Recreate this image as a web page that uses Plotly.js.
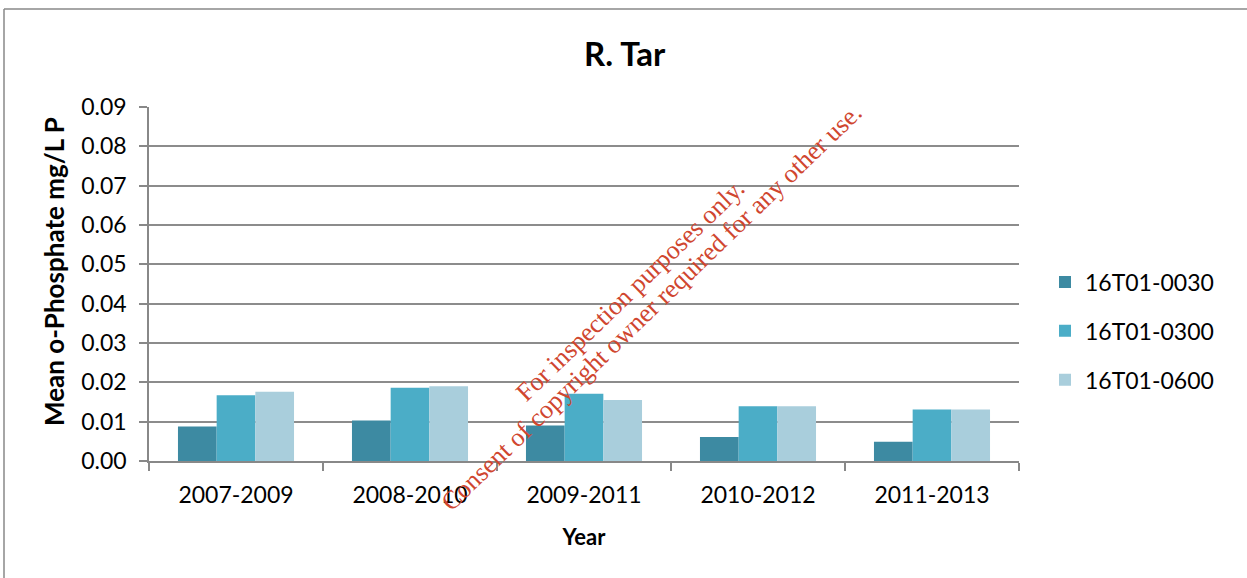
<!DOCTYPE html>
<html>
<head>
<meta charset="utf-8">
<script src="https://cdn.plot.ly/plotly-3.0.1.min.js"></script>
<style>
html,body{margin:0;padding:0;background:#fff;}
#chart{width:1247px;height:578px;}
</style>
</head>
<body>
<div id="chart"></div>
<script>
const categories = ["2007-2009", "2008-2010", "2009-2011", "2010-2012", "2011-2013"];
const seriesNames = ["16T01-0030", "16T01-0300", "16T01-0600"];
const s0030 = [0.0088, 0.0103, 0.0090, 0.0061, 0.0049];
const s0300 = [0.0167, 0.0186, 0.0171, 0.0139, 0.0131];
const s0600 = [0.0176, 0.0190, 0.0155, 0.0139, 0.0131];
const yTicks = [0, 0.01, 0.02, 0.03, 0.04, 0.05, 0.06, 0.07, 0.08, 0.09];

const colors = ["#3d8aa2", "#4badc7", "#a9cedc"];
const values = [s0030, s0300, s0600];

const traces = values.map((v, i) => ({
  type: "bar",
  x: categories,
  y: v,
  name: seriesNames[i],
  legendgroup: "g" + i,
  marker: {color: colors[i], line: {width: 0}},
  hoverinfo: "x+y+name"
}));

const font = "Lato, 'Open Sans', sans-serif";
const serif = "'Liberation Serif', 'Times New Roman', serif";

// plot area in pixels (used only to place paper-referenced decorations)
const L = 149, R = 1019, T = 107, B = 461;
const px = x => (x - L) / (R - L);
const py = y => (B - y) / (B - T);

const layout = {
  width: 1247,
  height: 578,
  margin: {l: L, r: 1247 - R, t: T, b: 578 - B},
  paper_bgcolor: "#ffffff",
  plot_bgcolor: "#ffffff",
  barmode: "group",
  bargap: 0.333,
  bargroupgap: 0,
  showlegend: true,
  title: {
    text: "<b>R. Tar</b>",
    font: {family: font, size: 33, color: "#000"},
    x: 0.501, xref: "container", xanchor: "center",
    y: 0.905, yref: "container", yanchor: "middle"
  },
  xaxis: {
    type: "category",
    tickson: "boundaries",
    ticks: "outside",
    ticklen: 8,
    tickcolor: "#888",
    tickwidth: 1.5,
    ticklabelstandoff: 13,
    showline: true,
    linecolor: "#888",
    linewidth: 1.5,
    showgrid: false,
    tickfont: {family: font, size: 23, color: "#000"},
    title: {text: "<b>Year</b>", font: {family: font, size: 22, color: "#000"}, standoff: 22}
  },
  yaxis: {
    range: [0, 0.09],
    tickvals: yTicks,
    tickformat: ".2f",
    ticks: "outside",
    ticklen: 8,
    tickcolor: "#888",
    tickwidth: 1.5,
    ticklabelstandoff: 8,
    showline: true,
    linecolor: "#888",
    linewidth: 1.5,
    showgrid: true,
    gridcolor: "#8c8c8c",
    gridwidth: 1.5,
    zeroline: false,
    tickfont: {family: font, size: 23, color: "#000"}
  },
  legend: {
    x: px(1045), xanchor: "left",
    y: py(331), yanchor: "middle",
    font: {family: font, size: 23, color: "#000"},
    traceorder: "grouped",
    tracegroupgap: 16,
    itemwidth: 30,
    bgcolor: "rgba(0,0,0,0)"
  },
  shapes: [
    {type: "line", xref: "paper", yref: "paper", x0: px(4), x1: px(4), y0: py(578), y1: py(9),
     line: {color: "#888", width: 1.5}, layer: "below"},
    {type: "line", xref: "paper", yref: "paper", x0: px(4), x1: px(1247), y0: py(9), y1: py(9),
     line: {color: "#888", width: 1.5}, layer: "below"}
  ],
  annotations: [
    {
      text: "<b>Mean o-Phosphate mg/L P</b>",
      xref: "paper", yref: "paper",
      x: px(54), y: py(272), xanchor: "center", yanchor: "middle",
      showarrow: false, textangle: -90,
      font: {family: font, size: 26, color: "#000"}
    },
    {
      text: "For inspection purposes only.",
      xref: "paper", yref: "paper",
      x: px(630), y: py(290),
      showarrow: false, textangle: -44,
      font: {family: serif, size: 26, color: "#d0462f"}
    },
    {
      text: "Consent of copyright owner required for any other use.",
      xref: "paper", yref: "paper",
      x: px(651), y: py(307),
      showarrow: false, textangle: -44,
      font: {family: serif, size: 26, color: "#d0462f"}
    }
  ]
};

Plotly.newPlot("chart", traces, layout, {displayModeBar: false, responsive: false});
</script>
</body>
</html>
